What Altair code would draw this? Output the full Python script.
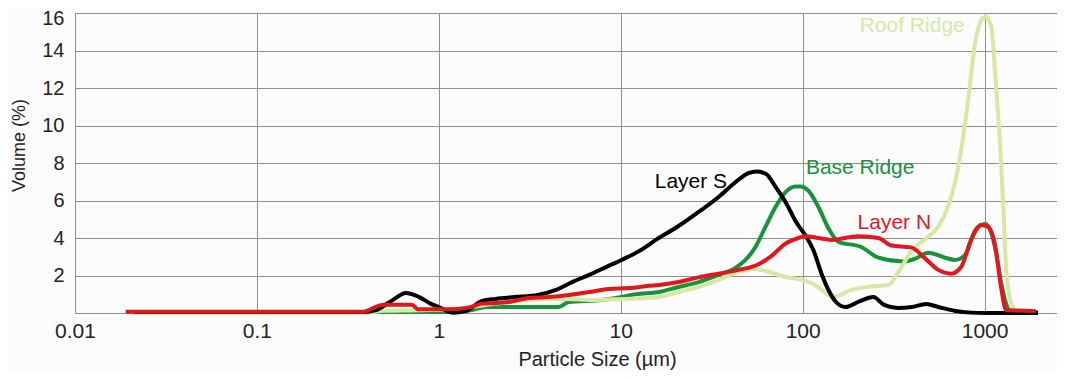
import altair as alt
import pandas as pd

# ---------------- data ----------------
series_names = ["Base Ridge", "Roof Ridge", "Layer S", "Layer N"]
series_colors = ["#17933a", "#d6e9a4", "#000000", "#e0171c"]

base_x = [0.02, 1.2, 1.52, 1.82, 4.57, 5.19, 7.87, 10.1, 12.1, 16.2,
          20.8, 26.8, 34.5, 42.7, 48.5, 55, 62.4, 70.9, 80.5, 91.4,
          97.4, 108, 122, 139, 157, 210, 261, 357, 416, 490,
          607, 689, 782, 887, 1007, 1086, 1157, 1233, 1313, 1398, 1965]
base_y = [0.05, 0.05, 0.16, 0.32, 0.32, 0.59, 0.69, 0.85, 1.0, 1.12,
          1.39, 1.65, 2.03, 2.4, 2.83, 3.52, 4.59, 5.65, 6.45, 6.75,
          6.75, 6.5, 5.65, 4.5, 3.8, 3.52, 2.95, 2.75, 2.9, 3.22,
          2.95, 2.83, 3.1, 4.4, 4.75, 4.3, 3.2, 1.6, 0.5, 0.05, 0.05]

roof_x = [0.02, 0.39, 0.5, 0.8, 1.2, 1.47, 2.06, 3.13, 4.75, 7.3,
          10.1, 14.3, 16.2, 20.8, 26.8, 34.5, 44.5, 55, 64.9, 80.5,
          94.9, 112, 127, 147, 185, 230, 296, 336, 397, 472,
          556, 631, 689, 743, 813, 887, 981, 1019, 1086, 1157,
          1217, 1262, 1312, 1397, 1489, 1733]
roof_y = [0.02, 0.02, 0.12, 0.15, 0.2, 0.3, 0.5, 0.69, 0.75, 0.7,
          0.75, 0.8, 0.85, 1.12, 1.39, 1.76, 2.19, 2.35, 2.2, 1.92,
          1.8, 1.6, 1.23, 0.85, 1.23, 1.4, 1.49, 2.2, 3.3, 3.95,
          4.6, 5.7, 7.0, 8.7, 11.4, 14.4, 15.75, 15.8, 15.3, 12.0,
          9.0, 6.0, 2.45, 0.55, 0.16, 0.05]

layer_s_x = [0.021, 0.39, 0.45, 0.54, 0.66, 0.78, 0.9, 1.0, 1.19, 1.4,
             1.73, 2.05, 2.6, 3.5, 4.4, 5.4, 6.7, 8.3, 10.1, 12.6,
             15.9, 20.8, 26.8, 34.5, 43, 50, 56, 63, 71, 81,
             92, 105, 114, 128, 139, 152, 172, 202, 245, 280,
             334, 397, 478, 557, 690, 843, 1000, 1965]
layer_s_y = [0.05, 0.05, 0.15, 0.6, 1.07, 0.85, 0.5, 0.32, 0.02, 0.1,
             0.64, 0.75, 0.85, 0.96, 1.23, 1.65, 2.03, 2.45, 2.83, 3.3,
             3.95, 4.64, 5.39, 6.19, 7.0, 7.45, 7.55, 7.41, 6.72, 5.87,
             4.85, 4.05, 3.4, 2.0, 1.2, 0.6, 0.32, 0.59, 0.85, 0.43,
             0.27, 0.32, 0.48, 0.32, 0.11, 0.02, 0.0, 0.0]

layer_n_x = [0.019, 0.39, 0.42, 0.5, 0.71, 0.77, 1.14, 1.47, 1.73, 2.06,
             2.43, 3.13, 4.03, 5.19, 6.68, 8.6, 11.1, 14.3, 16.2, 20.8,
             26.8, 34.5, 44.5, 57.2, 67.5, 80.5, 94.9, 104, 122, 144,
             202, 261, 307, 395, 472, 556, 655, 743, 843, 957,
             1045, 1142, 1233, 1313, 1915]
layer_n_y = [0.07, 0.07, 0.2, 0.44, 0.44, 0.2, 0.2, 0.3, 0.5, 0.53,
             0.59, 0.8, 0.85, 0.96, 1.12, 1.28, 1.33, 1.45, 1.49, 1.65,
             1.9, 2.1, 2.3, 2.6, 3.05, 3.7, 4.0, 4.1, 4.0, 3.9,
             4.1, 4.0, 3.6, 3.5, 2.9, 2.3, 2.1, 2.45, 3.9, 4.7,
             4.6, 3.6, 1.35, 0.16, 0.1]

label_text = ["Layer S", "Base Ridge", "Layer N", "Roof Ridge"]
label_x = [24.3, 207, 319, 400]
label_y = [7.0, 7.76, 4.82, 15.3]
label_color = ["#000000", "#17933a", "#e0171c", "#d6e9a4"]

x_ticks = [0.01, 0.1, 1, 10, 100, 1000]
y_ticks = [2, 4, 6, 8, 10, 12, 14, 16]

FONT = "Liberation Sans"

series_data = {
    "Base Ridge": (base_x, base_y),
    "Roof Ridge": (roof_x, roof_y),
    "Layer S": (layer_s_x, layer_s_y),
    "Layer N": (layer_n_x, layer_n_y),
}

x_enc = alt.X(
    "x:Q",
    scale=alt.Scale(type="log", domain=[0.01, 2500], nice=False),
    axis=alt.Axis(
        values=x_ticks, format=".2~f", title="Particle Size (µm)",
        ticks=False, labelPadding=7, labelFontSize=21, titleFontSize=20,
        labelFlush=False, labelOverlap=False,
        titleX=522, titleY=52, titleAlign="center", titleBaseline="alphabetic",
        titleFontWeight="normal",
    ),
)
y_enc = alt.Y(
    "y:Q",
    scale=alt.Scale(domain=[0, 16], nice=False),
    axis=alt.Axis(
        values=y_ticks, title="Volume (%)", ticks=False, labelPadding=11,
        labelFontSize=20, titleFontSize=18, labelFlush=False,
        labelOffset={"condition": {"test": "datum.value === 16", "value": 5}, "value": 0},
        titleX=-51, titleY=132, titleAlign="center", titleBaseline="alphabetic",
        titleFontWeight="normal",
    ),
)

layers = []
for name, color in zip(series_names, series_colors):
    xs, ys = series_data[name]
    df = pd.DataFrame({"x": xs, "y": ys, "series": name})
    layers.append(
        alt.Chart(df).mark_line(
            color=color, strokeWidth=4, interpolate="monotone", strokeJoin="round"
        ).encode(x=x_enc, y=y_enc)
    )

lab_df = pd.DataFrame({"x": label_x, "y": label_y, "text": label_text, "color": label_color})
text_layer = alt.Chart(lab_df).mark_text(
    fontSize=21, font=FONT, align="center", baseline="middle"
).encode(
    x=alt.X("x:Q"), y=alt.Y("y:Q"), text="text:N",
    color=alt.Color("color:N", scale=None),
)

chart = alt.layer(*layers, text_layer).properties(
    width=982,
    height=300,
    autosize=alt.AutoSizeParams(type="none"),
    padding={"left": 67, "right": 0, "top": 5, "bottom": 57},
    background="#fcfcfc",
).configure_view(
    stroke=None
).configure_axis(
    gridColor="#8f8f8f", gridWidth=1, gridOpacity=1,
    domainColor="#8f8f8f", domainWidth=1,
    labelColor="#222222", titleColor="#222222",
    labelFont=FONT, titleFont=FONT,
)

chart.save("out.html", embed_options={"renderer": "svg", "actions": False})
